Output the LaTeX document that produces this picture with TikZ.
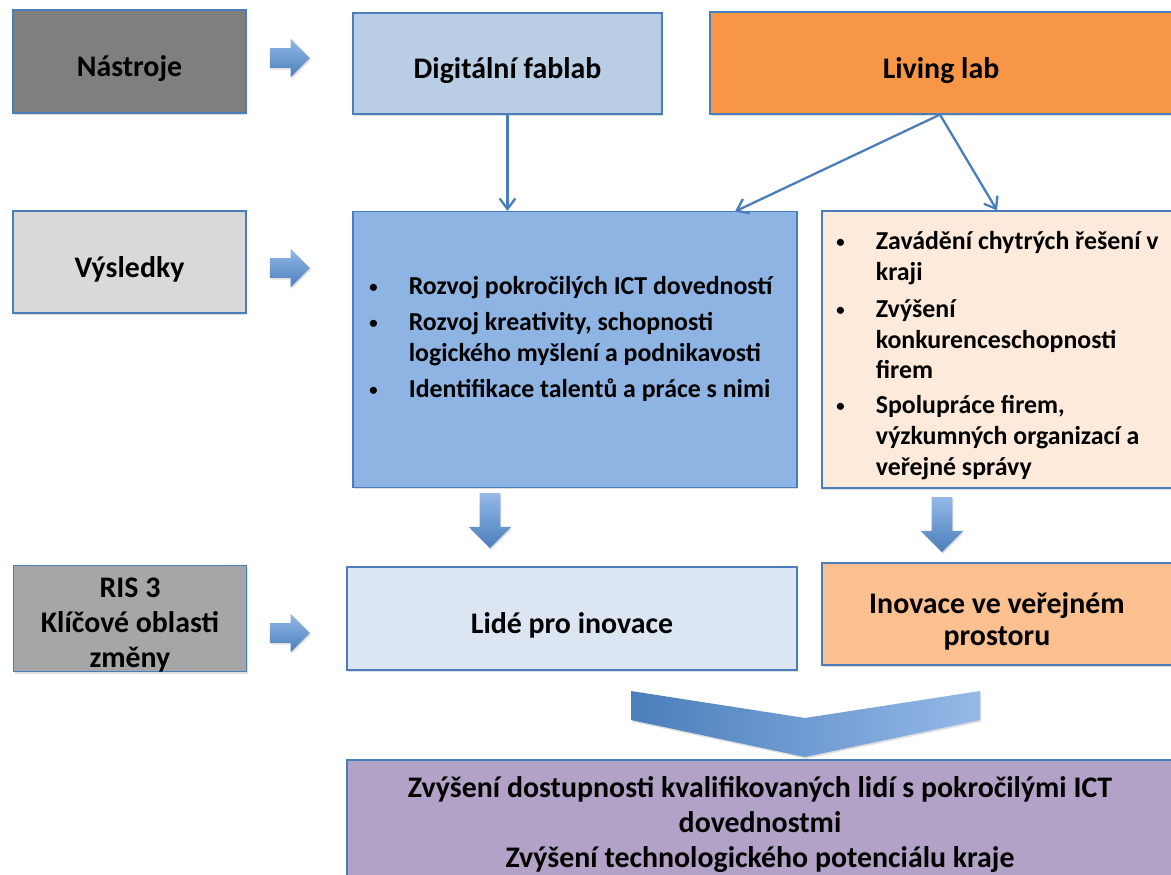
\documentclass[tikz,border=0pt]{standalone}
\usepackage{fontspec}
\setmainfont{Carlito}
\usetikzlibrary{arrows.meta,shapes.arrows,shadows}
\definecolor{edgeblue}{HTML}{4A7EBB}
\definecolor{arrdark}{HTML}{4A7EBB}
\definecolor{arrlight}{HTML}{95B9E8}
\definecolor{darkgray}{HTML}{7F7F7F}
\definecolor{midgray}{HTML}{A6A6A6}
\definecolor{lightgray}{HTML}{D9D9D9}
\definecolor{fabfill}{HTML}{B9CDE5}
\definecolor{livfill}{HTML}{F79646}
\definecolor{resfill}{HTML}{8EB4E3}
\definecolor{peach}{HTML}{FDEADA}
\definecolor{lidefill}{HTML}{DCE6F2}
\definecolor{inofill}{HTML}{FAC090}
\definecolor{goalfill}{HTML}{B3A2C7}
\newcommand{\blt}{\raisebox{0.8pt}{\fontsize{9.5}{9.5}\selectfont\textbullet}}
\begin{document}
\begin{tikzpicture}[x=0.02cm, y=-0.02cm,
  lift/.style={execute at begin node={\rule{0pt}{#1}}},
  box/.style={draw=edgeblue, line width=0.7pt, inner sep=0pt, align=center,
    font=\bfseries\fontsize{17}{19.8}\selectfont, lift=20pt,
    drop shadow={shadow xshift=0.6pt, shadow yshift=-1pt, opacity=0.25}},
  sz/.style 2 args={minimum width=#1*0.02cm, minimum height=#2*0.02cm},
  listtxt/.style={inner sep=0pt, anchor=west, align=left, font=\bfseries\fontsize{14.7}{17.6}\selectfont},
  blockarrow/.style={single arrow, draw=none, inner xsep=0pt, single arrow tip angle=90,
    top color=arrlight, bottom color=arrdark,
    drop shadow={shadow xshift=0.6pt, shadow yshift=-1pt, opacity=0.25}},
  rightarrow/.style={blockarrow, minimum height=0.8cm, inner ysep=0.19cm, single arrow head extend=0.19cm},
  downarrow/.style={blockarrow, rotate=-90, minimum height=1.1cm, inner ysep=0.2cm, single arrow head extend=0.22cm},
  link/.style={-{Straight Barb[length=6pt,width=9pt]}, line width=1.3pt, edgeblue}]
\fill[white] (0,0) rectangle (1171,875);
\useasboundingbox (0,0) rectangle (1171,875);
% row labels
\node[box, sz={233}{103}, fill=darkgray] (nastroje) at (129.5,61.5) {Nástroje};
\node[box, sz={233}{102}, fill=lightgray] (vysledky) at (129.5,262) {Výsledky};
\node[box, sz={233}{105}, fill=midgray, lift=58pt] (ris) at (130,618.5) {RIS 3\\Klíčové oblasti\\změny};
% tools
\node[box, sz={309}{101}, fill=fabfill] (fablab) at (507.5,63.5) {Digitální fablab};
\node[box, sz={462}{102}, fill=livfill] (livlab) at (941,63) {Living lab};
% results
\node[box, sz={444}{276}, fill=resfill] (fabres) at (575,349.5) {};
\node[box, sz={350}{277}, fill=peach] (livres) at (997,349.5) {};
\node[listtxt] (fablist) at (369,339.5) {\begin{tabular}{@{}p{22.5pt}@{}l@{}}
\blt & Rozvoj pokročilých ICT dovedností\\[3pt]
\blt & Rozvoj kreativity, schopnosti\\
 & logického myšlení a podnikavosti\\[3pt]
\blt & Identifikace talentů a práce s nimi
\end{tabular}};
\node[listtxt] (livlist) at (836,356) {\begin{tabular}{@{}p{22.5pt}@{}l@{}}
\blt & Zavádění chytrých řešení v\\
 & kraji\\[3.5pt]
\blt & Zvýšení\\
 & konkurenceschopnosti\\
 & firem\\[2pt]
\blt & Spolupráce firem,\\
 & výzkumných organizací a\\
 & veřejné správy
\end{tabular}};
% areas of change
\node[box, sz={450}{103}, fill=lidefill] (lide) at (572,618.5) {Lidé pro inovace};
\node[box, sz={350}{102}, fill=inofill, font=\bfseries\fontsize{17}{18.7}\selectfont, lift=39pt] (inovace) at (997,614) {Inovace ve veřejném\\prostoru};
\node[box, sz={826}{120}, fill=goalfill, lift=57pt] (cil) at (760,820) {Zvýšení dostupnosti kvalifikovaných lidí s pokročilými ICT\\dovednostmi\\Zvýšení technologického potenciálu kraje};
% block arrows
\node[rightarrow] (arr1) at (285,58) {};
\node[rightarrow] (arr2) at (285,268) {};
\node[rightarrow] (arr3) at (285,633) {};
\node[downarrow] (down1) at (490,515.5) {};
\node[downarrow] (down2) at (942,519.5) {};
% chevron
\shade[left color=arrdark, right color=arrlight, drop shadow={shadow xshift=0.6pt, shadow yshift=-1pt, opacity=0.25}]
  (631,691) -- (805,718) -- (980,691) -- (980,720) -- (805,757) -- (631,720) -- cycle;
% connectors
\coordinate (resin) at (735,211.5);
\draw[link] (fablab.south) -- (fablab.south |- fabres.north);
\draw[link] (livlab.south -| 940,0) -- (resin);
\draw[link] (livlab.south -| 940,0) -- (livres.north);
\end{tikzpicture}
\end{document}
